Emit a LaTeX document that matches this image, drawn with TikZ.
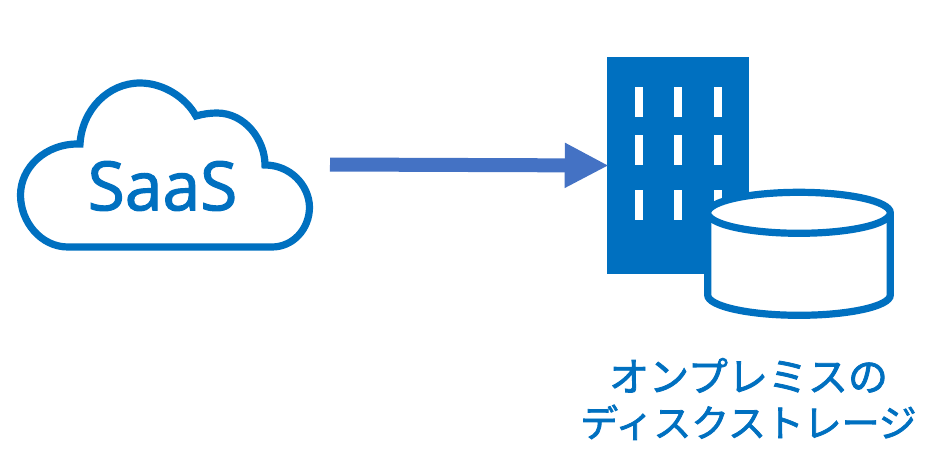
\documentclass[tikz,border=0pt]{standalone}
\usepackage{fontspec}
\setsansfont{Open Sans}
\newfontfamily\cjkjp[FakeBold=2]{Noto Sans CJK JP}
\newfontfamily\saasfont[FakeBold=1.8]{Open Sans}
\usetikzlibrary{arrows.meta}
\definecolor{azure}{HTML}{0070C0}
\definecolor{flow}{HTML}{4472C4}
\tikzset{
  outline/.style={draw=azure,line width=5.4pt,fill=white,miter limit=10},
  building/.style={fill=azure,draw=none,inner sep=0pt,minimum width=106.5pt,minimum height=162.75pt},
  pane/.style={fill=white,draw=none},
  saas/.style={text=azure,font=\saasfont\fontsize{50.8pt}{52pt}\selectfont,inner sep=0pt},
  caption/.style={text=azure,font=\cjkjp,align=center,inner sep=0pt},
  flowline/.style={draw=flow,line width=10.5pt,shorten >=-1.5pt,-{Triangle[length=33pt,width=31.5pt]}}
}
\begin{document}
\begin{tikzpicture}[x=0.75pt,y=-0.75pt]
\useasboundingbox (0,0) rectangle (951,471);
% cloud
\draw[outline] (68,247)
  .. controls (41,247) and (20.5,222) .. (20.5,195)
  .. controls (20.5,168) and (45,143) .. (80,144)
  .. controls (82,110) and (108,83) .. (140,83)
  .. controls (164,83) and (186,98) .. (196,116)
  .. controls (203,114) and (210,113) .. (217,113)
  .. controls (245,113) and (265,140) .. (265,165)
  .. controls (290,165) and (309,185) .. (309.5,207)
  .. controls (309.5,229) and (293,247) .. (272,247)
  -- cycle;
\node[saas] (saaslabel) at (162.5,186) {SaaS};
% building
\node[building] (office) at (678,165.5) {};
\foreach \wx in {635,674,714}{
  \foreach \wy in {87,135,190}{
    \fill[pane] (\wx,\wy) rectangle ++(8,30);
  }
}
% cylinder
\draw[outline] (707.7,212.8) -- (707.7,295)
  .. controls (707.7,306) and (748,315.3) .. (799,315.3)
  .. controls (850,315.3) and (890.3,306) .. (890.3,295)
  -- (890.3,212.8);
\draw[outline] (799,212.8) ellipse [x radius=91.3,y radius=20.5];
% connector
\coordinate (flowstart) at (330,164.5);
\draw[flowline] (flowstart) -- (office.west);
% caption
\node[caption] (storagelabel) at (748.5,399) {\fontsize{30pt}{35pt}\selectfont オンプレミスの\\[8pt]\fontsize{28.4pt}{35pt}\selectfont ディスクストレージ};
\end{tikzpicture}
\end{document}
